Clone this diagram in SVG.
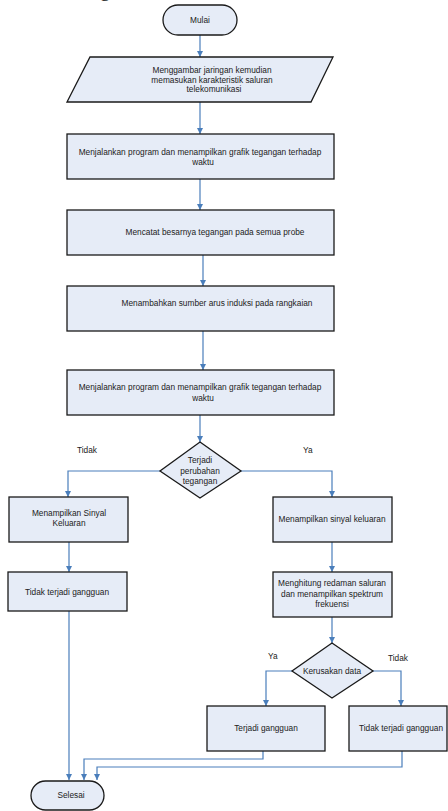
<svg xmlns="http://www.w3.org/2000/svg" width="448" height="811" viewBox="0 0 448 811">
<style>
.n{fill:#e6ecf7;stroke:#1a1a1a;stroke-width:1.3}
.t{font-family:"Liberation Sans",Arial,sans-serif;font-size:8.3px;fill:#222;text-anchor:middle}
.c{fill:none;stroke:#4a7ebb;stroke-width:1.2}
.l{font-family:"Liberation Sans",Arial,sans-serif;font-size:8.3px;fill:#222}
</style>
<defs>
<marker id="ah" viewBox="0 0 6 6" refX="6" refY="3" markerWidth="6" markerHeight="6" markerUnits="userSpaceOnUse" orient="auto">
<path d="M0,0 L6,3 L0,6 z" fill="#4a7ebb"/>
</marker>
</defs>
<text x="100" y="-4" font-family="Liberation Serif,serif" font-size="20" fill="#222">g</text>
<g id="connectors">
<path class="c" d="M200,35 V57" marker-end="url(#ah)"/>
<path class="c" d="M200,102 V134" marker-end="url(#ah)"/>
<path class="c" d="M200,179 V210" marker-end="url(#ah)"/>
<path class="c" d="M203,255 V286" marker-end="url(#ah)"/>
<path class="c" d="M203,331 V370" marker-end="url(#ah)"/>
<path class="c" d="M200,415 V442" marker-end="url(#ah)"/>
<path class="c" d="M160,471 H68 V497" marker-end="url(#ah)"/>
<path class="c" d="M241,471 H332 V497" marker-end="url(#ah)"/>
<path class="c" d="M69,542 V572" marker-end="url(#ah)"/>
<path class="c" d="M332,542 V572" marker-end="url(#ah)"/>
<path class="c" d="M69,611 V780" marker-end="url(#ah)"/>
<path class="c" d="M332,617 V643" marker-end="url(#ah)"/>
<path class="c" d="M292,671 H266 V706" marker-end="url(#ah)"/>
<path class="c" d="M373,671 H401 V706" marker-end="url(#ah)"/>
<path class="c" d="M263,751 V759 H84 V780" marker-end="url(#ah)"/>
<path class="c" d="M402,751 V767 H97 V780" marker-end="url(#ah)"/>
</g>
<g id="mulai">
<rect class="n" x="163" y="5" width="74" height="30" rx="15"/>
<text class="t" x="200" y="23">Mulai</text>
</g>
<g id="input">
<polygon class="n" points="90,57 333,57 311,102 67,102"/>
<text class="t" x="212" y="73">Menggambar jaringan kemudian</text>
<text class="t" x="212" y="83">memasukan karakteristik saluran</text>
<text class="t" x="214" y="92">telekomunikasi</text>
</g>
<g id="run1">
<rect class="n" x="67" y="134" width="267" height="45"/>
<text class="t" x="200" y="155">Menjalankan program dan menampilkan grafik tegangan terhadap</text>
<text class="t" x="203" y="165">waktu</text>
</g>
<g id="catat">
<rect class="n" x="67" y="210" width="267" height="45"/>
<text class="t" x="215" y="235">Mencatat besarnya tegangan pada semua probe</text>
</g>
<g id="tambah">
<rect class="n" x="67" y="286" width="267" height="45"/>
<text class="t" x="217" y="306">Menambahkan sumber arus induksi pada rangkaian</text>
</g>
<g id="run2">
<rect class="n" x="67" y="370" width="267" height="45"/>
<text class="t" x="200" y="390">Menjalankan program dan menampilkan grafik tegangan terhadap</text>
<text class="t" x="203" y="401">waktu</text>
</g>
<g id="dec1">
<polygon class="n" points="200,442 241,471 200,498 160,471"/>
<text class="t" x="200" y="463">Terjadi</text>
<text class="t" x="200" y="474">perubahan</text>
<text class="t" x="200" y="484">tegangan</text>
</g>
<text class="l" x="77" y="453">Tidak</text>
<text class="l" x="303" y="453">Ya</text>
<g id="tampilL">
<rect class="n" x="9" y="497" width="119" height="45"/>
<text class="t" x="69" y="516">Menampilkan Sinyal</text>
<text class="t" x="69" y="526">Keluaran</text>
</g>
<g id="tampilR">
<rect class="n" x="273" y="497" width="119" height="45"/>
<text class="t" x="332" y="522">Menampilkan sinyal keluaran</text>
</g>
<g id="tidakL">
<rect class="n" x="8" y="572" width="119" height="39"/>
<text class="t" x="67" y="595">Tidak terjadi gangguan</text>
</g>
<g id="hitung">
<rect class="n" x="273" y="572" width="119" height="45"/>
<text class="t" x="332" y="586">Menghitung redaman saluran</text>
<text class="t" x="332" y="597">dan menampilkan spektrum</text>
<text class="t" x="332" y="607">frekuensi</text>
</g>
<g id="dec2">
<polygon class="n" points="332,643 373,671 332,698 292,671"/>
<text class="t" x="332" y="674">Kerusakan data</text>
</g>
<text class="l" x="268" y="659">Ya</text>
<text class="l" x="388" y="661">Tidak</text>
<g id="terjadi">
<rect class="n" x="207" y="706" width="118" height="45"/>
<text class="t" x="266" y="731">Terjadi gangguan</text>
</g>
<g id="tidakR">
<rect class="n" x="349" y="706" width="98" height="45"/>
<text class="t" x="401" y="731">Tidak terjadi gangguan</text>
</g>
<g id="selesai">
<rect class="n" x="31" y="781" width="73" height="29" rx="14.5"/>
<text class="t" x="71" y="798">Selesai</text>
</g>
</svg>
